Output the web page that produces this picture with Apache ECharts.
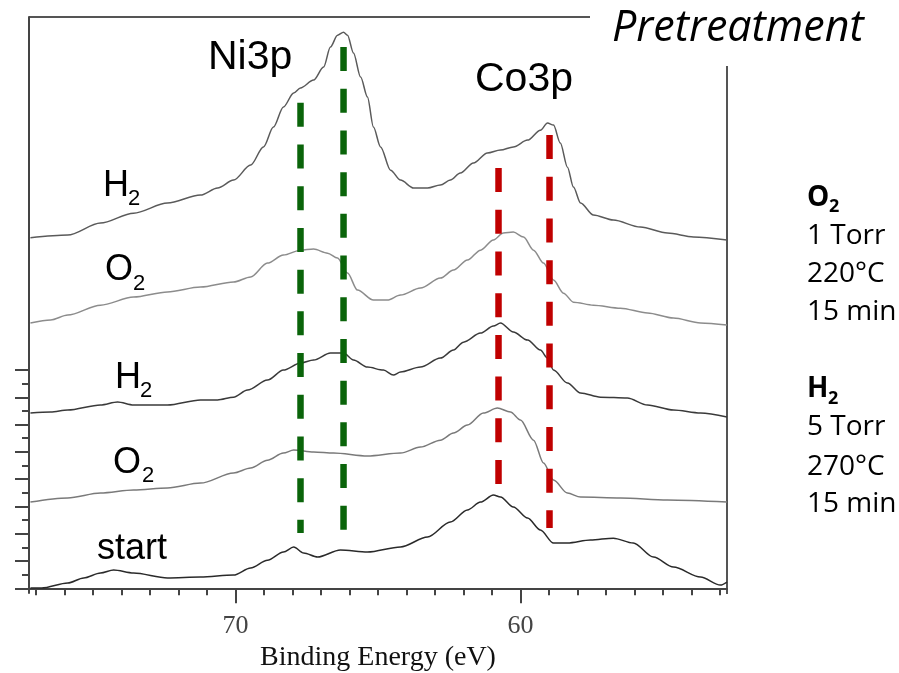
<!DOCTYPE html>
<html>
<head>
<meta charset="utf-8">
<script src="https://cdn.jsdelivr.net/npm/echarts@6/dist/echarts.min.js"></script>
<style>
  html, body { margin: 0; background: #fff; }
  #main { width: 899px; height: 673px; }
</style>
</head>
<body>
<div id="main"></div>
<script>
// binding energy (eV) axis, drawn reversed
var energyTicks = [53, 54, 55, 56, 57, 58, 59, 60, 61, 62, 63, 64, 65, 66, 67, 68, 69, 70, 71, 72, 73, 74, 75, 76, 77];
var energyLabels = [60, 70];
var intensityMajor = [0, 2, 4, 6, 8, 10, 12, 14, 16];
var intensityMinor = [1, 3, 5, 7, 9, 11, 13, 15];

// spectra, [binding energy, stacked intensity]
var h2Top = [
  [77.2, 25.68], [75.89, 25.88], [74.74, 26.76], [73.58, 27.49], [72.39, 28.23], [71.23, 28.81],
  [70.63, 29.33], [70.07, 29.91], [69.47, 31.01], [69.02, 32.34], [68.67, 33.8], [68.32, 35.27],
  [67.96, 36.29], [67.72, 36.66], [67.26, 37.24], [66.91, 38.19], [66.67, 39.66], [66.42, 40.53],
  [66.21, 40.75], [66.07, 40.53], [65.86, 39.22], [65.61, 37.46], [65.37, 36.0], [65.16, 33.8],
  [64.91, 32.34], [64.56, 30.64], [64.21, 29.91], [63.75, 29.33], [63.26, 29.33], [62.81, 29.55],
  [62.46, 29.91], [62.11, 30.43], [61.65, 31.16], [61.16, 31.89], [60.7, 32.11], [60.25, 32.34],
  [59.75, 32.84], [59.3, 33.57], [59.05, 34.09], [58.84, 33.94], [58.6, 32.62], [58.35, 30.86],
  [58.14, 29.4], [57.89, 28.23], [57.44, 27.35], [56.74, 26.98], [55.79, 26.47], [54.84, 26.03],
  [53.93, 25.74], [52.75, 25.52]
];
var o2Top = [
  [77.2, 19.44], [76.49, 19.66], [75.89, 20.02], [74.74, 20.75], [73.58, 21.34], [72.39, 21.71],
  [71.23, 22.07], [70.07, 22.44], [69.47, 22.81], [68.88, 23.83], [68.32, 24.42], [67.72, 24.78],
  [67.26, 24.86], [66.77, 24.56], [66.42, 24.2], [66.07, 23.1], [65.72, 21.85], [65.16, 21.12],
  [64.67, 21.12], [64.21, 21.49], [63.51, 22.0], [62.81, 22.73], [62.35, 23.32], [61.86, 24.05],
  [61.4, 24.78], [60.95, 25.52], [60.6, 26.03], [60.25, 26.1], [59.89, 25.74], [59.54, 24.78],
  [59.19, 23.83], [58.84, 22.59], [58.49, 21.63], [58.14, 20.97], [57.44, 20.75], [56.49, 20.53],
  [55.54, 20.17], [54.63, 19.8], [53.68, 19.44], [52.75, 19.29]
];
var h2Mid = [
  [77.2, 12.84], [76.49, 12.92], [75.89, 13.06], [74.74, 13.43], [74.14, 13.65], [73.58, 13.43],
  [72.39, 13.43], [71.23, 13.8], [70.63, 13.8], [70.07, 14.01], [69.58, 14.53], [68.88, 15.26],
  [68.32, 15.99], [67.72, 16.51], [67.26, 16.73], [66.67, 17.24], [66.21, 17.24], [65.86, 16.73],
  [65.37, 16.21], [64.81, 15.99], [64.46, 15.63], [64.21, 15.85], [63.51, 16.21], [62.81, 16.87],
  [62.35, 17.46], [62.0, 18.04], [61.4, 18.7], [60.95, 19.22], [60.7, 19.44], [60.25, 18.78],
  [59.75, 18.19], [59.3, 17.46], [59.05, 16.87], [58.84, 15.99], [58.35, 15.04], [57.89, 14.31],
  [57.19, 14.01], [56.25, 13.94], [55.54, 13.43], [54.63, 13.06], [53.68, 12.84], [52.75, 12.55]
];
var o2Mid = [
  [77.2, 6.32], [75.89, 6.62], [74.74, 6.98], [73.58, 7.2], [72.39, 7.35], [71.23, 7.71],
  [70.07, 8.45], [69.47, 8.81], [68.88, 9.38], [68.32, 9.91], [67.96, 10.13], [67.26, 9.99],
  [66.56, 9.91], [65.37, 9.69], [64.21, 9.91], [63.51, 10.35], [62.81, 10.86], [62.35, 11.38],
  [61.86, 11.96], [61.3, 12.84], [60.81, 13.21], [60.35, 12.92], [60.0, 12.33], [59.54, 10.86],
  [59.19, 9.18], [58.84, 7.93], [58.35, 6.98], [57.89, 6.69], [56.49, 6.62], [54.84, 6.47],
  [52.75, 6.32]
];
var start = [
  [77.2, 0.02], [76.81, 0.02], [75.89, 0.39], [75.33, 0.76], [74.74, 1.12], [74.28, 1.34],
  [73.58, 1.12], [72.39, 0.76], [71.23, 0.83], [70.07, 0.97], [69.47, 1.49], [68.88, 2.06],
  [68.32, 2.66], [67.96, 3.03], [67.61, 2.59], [67.12, 2.29], [66.32, 2.81], [65.37, 2.66],
  [64.21, 3.03], [63.26, 3.76], [62.46, 4.86], [61.86, 5.74], [61.4, 6.32], [60.95, 6.84],
  [60.7, 6.69], [60.25, 5.96], [59.75, 5.15], [59.3, 4.27], [58.84, 3.32], [58.35, 3.32],
  [57.54, 3.54], [56.74, 3.68], [56.04, 3.32], [55.33, 2.29], [54.63, 1.56], [53.68, 0.83],
  [52.98, 0.24], [52.75, 0.46]
];

// peak guide lines: energy, top, bottom
var niLines = [[67.72, 35.57, 4.05], [66.21, 39.66, 4.12]];
var coLines = [[60.77, 30.79, 7.57], [58.98, 33.21, 4.42]];

var chart = echarts.init(document.getElementById('main'));

var spectra = [
  { name: 'H2 top', data: h2Top, color: '#5a5a5a' },
  { name: 'O2 top', data: o2Top, color: '#8c8c8c' },
  { name: 'H2 mid', data: h2Mid, color: '#3a3a3a' },
  { name: 'O2 mid', data: o2Mid, color: '#7a7a7a' },
  { name: 'start', data: start, color: '#2a2a2a' }
];

var series = spectra.map(function (s) {
  return {
    name: s.name, type: 'line', data: s.data, showSymbol: false, silent: true,
    smooth: 0.3, smoothMonotone: 'x',
    lineStyle: { color: s.color, width: 1.5 }
  };
});

function guide(l, color) {
  return {
    type: 'line', data: [[l[0], l[1]], [l[0], l[2]]], showSymbol: false, silent: true, z: 5,
    lineStyle: { color: color, width: 6.5, type: [24, 17.7], cap: 'butt' }
  };
}
niLines.forEach(function (l) { series.push(guide(l, '#0a640a')); });
coLines.forEach(function (l) { series.push(guide(l, '#c00000')); });

var sans = 'Liberation Sans, Arial, sans-serif';
var side = 'Open Sans, sans-serif';

function txt(text, x, y, size, family, opts) {
  opts = opts || {};
  return {
    type: 'text', x: x, y: y, silent: true,
    style: {
      text: text, fill: opts.fill || '#000',
      font: (opts.style || '') + ' ' + (opts.weight || 'normal') + ' ' + size + 'px ' + family,
      align: 'left', verticalAlign: 'middle'
    }
  };
}

var graphic = [
  { type: 'line', shape: { x1: 29, y1: 17, x2: 590, y2: 17 }, style: { stroke: '#555', lineWidth: 2 } },
  { type: 'line', shape: { x1: 727, y1: 66, x2: 727, y2: 594 }, style: { stroke: '#555', lineWidth: 2 } },
  txt('Ni3p', 208, 58, 41, sans),
  txt('Co3p', 475, 80, 41, sans),
  txt('H', 103, 186, 36, sans), txt('2', 128, 199, 22, sans),
  txt('O', 105, 270, 36, sans), txt('2', 133, 284, 22, sans),
  txt('H', 115, 378, 36, sans), txt('2', 140, 391, 22, sans),
  txt('O', 113, 463, 36, sans), txt('2', 142, 476, 22, sans),
  txt('start', 97, 549, 36, sans),
  txt('Pretreatment', 612, 29, 43, side, { style: 'italic' }),
  txt('O', 807, 198, 28, side, { weight: 'bold' }), txt('2', 829, 207, 18, side, { weight: 'bold' }),
  txt('1 Torr', 807, 236, 28, side),
  txt('220°C', 807, 274, 28, side),
  txt('15 min', 807, 312, 28, side),
  txt('H', 807, 389, 28, side, { weight: 'bold' }), txt('2', 828, 399, 18, side, { weight: 'bold' }),
  txt('5 Torr', 807, 427, 28, side),
  txt('270°C', 807, 467, 28, side),
  txt('15 min', 807, 504, 28, side)
];

var xRange = { min: 52.75, max: 77.25 };
var yRange = { min: -0.34, max: 41.86 };

var option = {
  animation: false,
  backgroundColor: '#fff',
  grid: { left: 29, top: 17, width: 698, height: 576, containLabel: false, outerBoundsMode: 'none' },
  xAxis: [
    {
      type: 'value', inverse: true, min: xRange.min, max: xRange.max, position: 'bottom',
      axisLine: { show: true, lineStyle: { color: '#444', width: 2 } },
      axisTick: { show: true, customValues: energyTicks, length: 7, lineStyle: { color: '#444', width: 2 } },
      axisLabel: {
        customValues: energyLabels, margin: 20, color: '#444',
        fontFamily: 'Liberation Serif, Times New Roman, serif', fontSize: 26
      },
      splitLine: { show: false },
      name: 'Binding Energy (eV)', nameLocation: 'middle', nameGap: 45,
      nameTextStyle: { fontFamily: 'Liberation Serif, Times New Roman, serif', fontSize: 28, color: '#111' }
    },
    {
      type: 'value', inverse: true, min: xRange.min, max: xRange.max, position: 'bottom',
      axisLine: { show: false },
      axisTick: { show: true, customValues: energyLabels, length: 15, lineStyle: { color: '#444', width: 2 } },
      axisLabel: { show: false },
      splitLine: { show: false }
    }
  ],
  yAxis: [
    {
      type: 'value', min: yRange.min, max: yRange.max, position: 'left',
      axisLine: { show: true, lineStyle: { color: '#444', width: 2 } },
      axisTick: { show: true, customValues: intensityMajor, length: 14, lineStyle: { color: '#444', width: 2 } },
      axisLabel: { show: false },
      splitLine: { show: false }
    },
    {
      type: 'value', min: yRange.min, max: yRange.max, position: 'left',
      axisLine: { show: false },
      axisTick: { show: true, customValues: intensityMinor, length: 7, lineStyle: { color: '#444', width: 2 } },
      axisLabel: { show: false },
      splitLine: { show: false }
    }
  ],
  series: series,
  graphic: graphic
};

chart.setOption(option);
</script>
</body>
</html>
